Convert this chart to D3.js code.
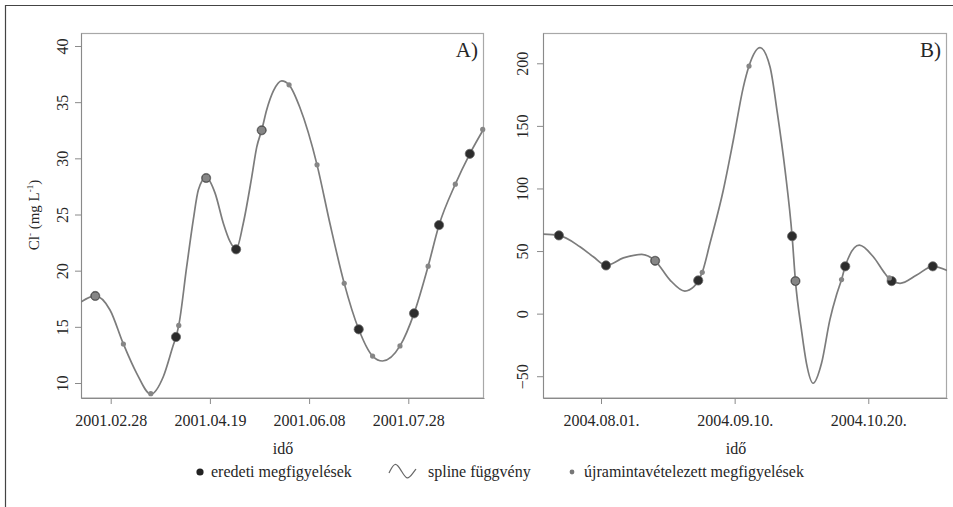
<!DOCTYPE html>
<html><head><meta charset="utf-8">
<script src="https://cdn.jsdelivr.net/npm/d3@7"></script>
<style>body{margin:0;background:#fff}svg{display:block}text{font-family:"Liberation Serif","Times New Roman","DejaVu Serif",serif;fill:#262626}</style>
</head><body><svg id="c" width="953" height="507" font-family="Liberation Serif, serif"></svg>
<script>
// ---------- data (days since base date, value) ----------
const baseA = "2001.02.28", baseB = "2004.08.01";
const ticksA = ["2001.02.28","2001.04.19","2001.06.08","2001.07.28"];
const ticksB = ["2004.08.01.","2004.09.10.","2004.10.20."];
const yTicksA = [10,15,20,25,30,35,40];
const yTicksB = [-50,0,50,100,150,200];
const domainDaysA = [-14.97, 188.15];
const domainDaysB = [-17.36, 103.56];
const domainYA = [8.665, 41.157];
const domainYB = [-67.4, 224.2];

const originalA = [[-7.8,17.75],[32.9,14.1],[48.1,28.25],[63.2,21.9],[76.1,32.5],[125,14.78],[152.9,16.2],[165.5,24.06],[181,30.4]];
const resampledA = [[-7.8,17.75],[6.4,13.47],[20.2,9.05],[34.3,15.13],[48.1,28.25],[76.1,32.5],[89.9,36.54],[104,29.42],[117.7,18.87],[132,12.4],[145.8,13.3],[160,20.4],[173.7,27.7],[187.5,32.57]];
const splineA = [[-15.1,17.2],[-7.8,17.75],[-0.35,16.5],[6.4,13.47],[13.1,10.86],[20.2,9.0],[26.5,10.56],[31.6,13.4],[32.9,14.1],[34.3,15.13],[38.3,20.35],[41.6,24.5],[44.2,27.2],[48.1,28.3],[52.6,26.9],[56.8,24.2],[60.1,22.6],[63.2,21.9],[66.8,24.2],[71.1,28.35],[73.6,31],[76.1,32.5],[78.6,34.3],[82,36.0],[86.2,36.9],[89.9,36.54],[95.4,34.5],[104,29.42],[110.5,24.2],[117.7,18.87],[125,14.78],[132,12.4],[137,11.96],[145.8,13.3],[152.9,16.2],[160,20.4],[165.5,24.06],[173.7,27.7],[181,30.4],[188.3,32.7]];

const originalB = [[-12.6,62.5],[1.5,38.5],[16.2,42.2],[29.1,26.5],[57.2,61.9],[58.2,26],[73.1,37.8],[87.0,26.0],[99.3,37.8]];
const resampledB = [[16.2,42.2],[30.3,33],[44.3,197.8],[58.2,26],[72,27.2],[86.3,28.5]];
const splineB = [[-17.4,63.5],[-12.6,62.5],[-6.3,53.4],[-2.3,45.4],[1.5,38.5],[6.7,44.5],[12.2,47.4],[16.2,42.2],[20.6,27],[25.1,18],[27.8,21.5],[29.1,26.5],[30.3,33],[32.6,56],[36.6,98.6],[39.6,138.5],[42.6,181],[44.3,197.8],[47.6,212.5],[50.6,197],[52.8,160],[55.1,114.5],[57.2,61.9],[58.2,26],[60,-13],[61.5,-39.7],[63.5,-55.6],[66,-39.7],[68.5,-5],[70.5,15],[72,27.2],[73.1,37.8],[77.3,54.7],[81.5,45.4],[85,32],[87,26],[89.5,24.2],[94.5,30.8],[99.3,37.8],[103.6,34.5]];

const legendItems = ["eredeti megfigyelések","spline függvény","újramintavételezett megfigyelések"];
// ---------------------------------------------------------

const FONT = "Liberation Serif, Times New Roman, serif";
const svg = d3.select("#c");
svg.append("rect").attr("width",953).attr("height",507).attr("fill","#fff");
// outer frame (scan border)
svg.append("path").attr("d","M5.5,507V5.5H953").attr("fill","none").attr("stroke","#444").attr("stroke-width",1.2);

const pDay = d3.timeParse("%Y.%m.%d");
const pDayB = d3.timeParse("%Y.%m.%d.");
function off(base, d){ return new Date(base.getTime() + d*864e5); }

function panel(cfg){
  const base = pDay(cfg.base);
  const x = d3.scaleTime().domain(cfg.dx.map(d=>off(base,d))).range([cfg.x0,cfg.x1]);
  const y = d3.scaleLinear().domain(cfg.dy).range([398,33]);
  const g = svg.append("g");
  const id = "clip"+cfg.name;
  svg.append("clipPath").attr("id",id).append("rect").attr("x",cfg.x0).attr("y",33).attr("width",cfg.x1-cfg.x0).attr("height",365);
  // box
  g.append("rect").attr("x",cfg.x0+0.5).attr("y",33.5).attr("width",cfg.x1-cfg.x0-1).attr("height",364.5)
    .attr("fill","none").attr("stroke","#a8a8a8").attr("stroke-width",1.2);
  // x axis
  const xt = cfg.ticks.map(cfg.parse);
  const xa = g.append("g").attr("transform","translate(0,398)")
    .call(d3.axisBottom(x).tickValues(xt).tickSize(6).tickSizeOuter(0).tickPadding(11).tickFormat((d,i)=>cfg.ticks[i]));
  xa.attr("font-family",FONT);
  xa.select(".domain").attr("stroke","#8a8a8a");
  xa.selectAll(".tick line").attr("stroke","#8a8a8a");
  xa.selectAll("text").attr("font-size",16).attr("fill","#262626");
  // y axis
  const ya = g.append("g").attr("transform",`translate(${cfg.x0},0)`)
    .call(d3.axisLeft(y).tickValues(cfg.yt).tickSize(6).tickSizeOuter(0).tickPadding(0));
  ya.attr("font-family",FONT);
  ya.select(".domain").attr("stroke","#8a8a8a");
  ya.selectAll(".tick line").attr("stroke","#8a8a8a");
  ya.selectAll(".tick text").attr("font-size",16).attr("fill","#262626")
    .attr("x",0).attr("dy",null).attr("text-anchor","middle")
    .attr("transform",`translate(${cfg.ylx - cfg.x0},0) rotate(-90)`).attr("dominant-baseline","central");
  // spline
  const line = d3.line().x(d=>x(off(base,d[0]))).y(d=>y(d[1])).curve(d3.curveMonotoneX);
  g.append("path").datum(cfg.spline).attr("d",line).attr("clip-path",`url(#${id})`)
    .attr("fill","none").attr("stroke","#7c7c7c").attr("stroke-width",1.7);
  // original observations
  g.selectAll("circle.o").data(cfg.orig).join("circle").attr("class","o")
    .attr("cx",d=>x(off(base,d[0]))).attr("cy",d=>y(d[1])).attr("r",4.6)
    .attr("fill","#2c2c2c").attr("stroke","#6a6a6a").attr("stroke-width",0.8);
  // resampled observations
  const coincide = d => cfg.orig.some(o=>Math.abs(o[0]-d[0])<0.3);
  g.selectAll("circle.r").data(cfg.res).join("circle").attr("class","r")
    .attr("cx",d=>x(off(base,d[0]))).attr("cy",d=>y(d[1])).attr("r",d=>coincide(d)?3.8:2.6)
    .attr("fill","#868686");
  // panel letter
  g.append("text").attr("x",cfg.x1-6).attr("y",57).attr("text-anchor","end").attr("font-size",21).text(cfg.letter);
  // x title
  g.append("text").attr("x",cfg.xlabX).attr("y",454).attr("text-anchor","middle").attr("font-size",16).text("idő");
}

panel({name:"A",base:baseA,dx:domainDaysA,dy:domainYA,x0:81,x1:484,ticks:ticksA,parse:pDay,yt:yTicksA,ylx:62,xlabX:283,
  spline:splineA,orig:originalA,res:resampledA,letter:"A)"});
panel({name:"B",base:baseB,dx:domainDaysB,dy:domainYB,x0:543,x1:947,ticks:ticksB,parse:pDayB,yt:yTicksB,ylx:522,xlabX:736,
  spline:splineB,orig:originalB,res:resampledB,letter:"B)"});

// y title
const yt = svg.append("text").attr("transform","translate(39,215) rotate(-90)").attr("text-anchor","middle").attr("font-size",15);
yt.append("tspan").text("Cl");
yt.append("tspan").attr("font-size",9).attr("dy",-6).text("-");
yt.append("tspan").attr("dy",6).text(" (mg L");
yt.append("tspan").attr("font-size",9).attr("dy",-6).text("-1");
yt.append("tspan").attr("dy",6).text(")");

// legend
const lg = svg.append("g").attr("font-size",16);
lg.append("circle").attr("cx",200).attr("cy",472).attr("r",3.6).attr("fill","#222");
lg.append("text").attr("x",211).attr("y",477).text(legendItems[0]);
lg.append("path").attr("d",d3.line().curve(d3.curveBasis)([[389,473],[395,461],[401,470],[407,481],[413,473],[416,469]]))
  .attr("fill","none").attr("stroke","#666").attr("stroke-width",1.2);
lg.append("text").attr("x",428).attr("y",477).text(legendItems[1]);
lg.append("circle").attr("cx",572).attr("cy",472).attr("r",2.4).attr("fill","#777");
lg.append("text").attr("x",584).attr("y",477).text(legendItems[2]);
</script></body></html>
